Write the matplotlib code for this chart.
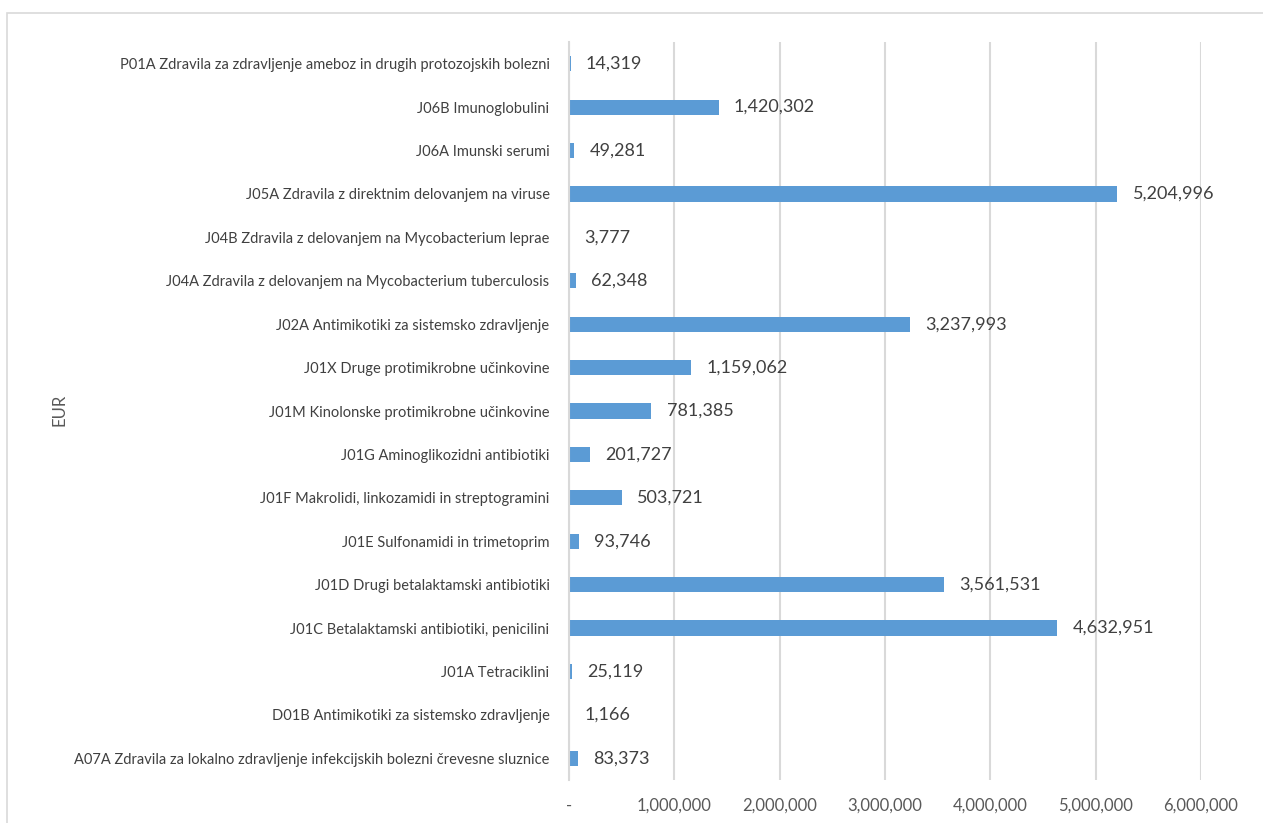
import matplotlib
matplotlib.use("Agg")
import matplotlib.pyplot as plt
from matplotlib.patches import Rectangle
from matplotlib.ticker import FuncFormatter

categories = [
    "A07A Zdravila za lokalno zdravljenje infekcijskih bolezni črevesne sluznice",
    "D01B Antimikotiki za sistemsko zdravljenje",
    "J01A Tetraciklini",
    "J01C Betalaktamski antibiotiki, penicilini",
    "J01D Drugi betalaktamski antibiotiki",
    "J01E Sulfonamidi in trimetoprim",
    "J01F Makrolidi, linkozamidi in streptogramini",
    "J01G Aminoglikozidni antibiotiki",
    "J01M Kinolonske protimikrobne učinkovine",
    "J01X Druge protimikrobne učinkovine",
    "J02A Antimikotiki za sistemsko zdravljenje",
    "J04A Zdravila z delovanjem na Mycobacterium tuberculosis",
    "J04B Zdravila z delovanjem na Mycobacterium leprae",
    "J05A Zdravila z direktnim delovanjem na viruse",
    "J06A Imunski serumi",
    "J06B Imunoglobulini",
    "P01A Zdravila za zdravljenje ameboz in drugih protozojskih bolezni",
]
values = [83373, 1166, 25119, 4632951, 3561531, 93746, 503721, 201727,
          781385, 1159062, 3237993, 62348, 3777, 5204996, 49281, 1420302, 14319]
xticks = [0, 1000000, 2000000, 3000000, 4000000, 5000000, 6000000]
y_label = "EUR"

plt.rcParams["font.family"] = ["Lato", "DejaVu Sans"]

W, H = 1263, 823
fig = plt.figure(figsize=(W / 100, H / 100), dpi=100)
fig.patches.append(Rectangle((7 / W, -0.1), 1.2, 1 - 13 / H + 0.1,
                             transform=fig.transFigure, fill=False,
                             edgecolor="#D9D9D9", linewidth=1.2, zorder=0))

ax = fig.add_axes([569 / W, 1 - 780 / H, (1201 - 569) / W, (780 - 42) / H])
bar_color = "#5B9BD5"
grid_color = "#D9D9D9"
text_color = "#404040"
y = list(range(len(categories)))
ax.barh(y, values, height=0.35, color=bar_color, zorder=2)
ax.set_xlim(0, 6000000)
ax.set_ylim(-0.5, len(categories) - 0.5)
ax.set_xticks(xticks)
ax.xaxis.set_major_formatter(FuncFormatter(lambda v, p: "-" if v == 0 else f"{int(v):,}"))
ax.set_yticks(y)
ax.set_yticklabels(categories)
ax.grid(axis="x", color=grid_color, linewidth=1.5, zorder=0)
for s in ["top", "right", "bottom"]:
    ax.spines[s].set_visible(False)
ax.spines["left"].set_color(grid_color)
ax.spines["left"].set_linewidth(1.5)
ax.tick_params(axis="both", length=0, colors="#595959")
ax.tick_params(axis="y", labelsize=10.5, pad=14)
ax.tick_params(axis="x", labelsize=12, pad=13)
for lbl in ax.get_yticklabels():
    lbl.set_color(text_color)

for yi, v in zip(y, values):
    ax.annotate(f"{v:,}", xy=(v, yi), xytext=(11, 0), textcoords="offset points",
                ha="left", va="center", fontsize=13, color=text_color)

fig.text(60 / W, 1 - 410 / H, y_label, rotation=90, ha="center", va="center",
         fontsize=12, color="#595959")

fig.savefig("out.png", dpi=100)
